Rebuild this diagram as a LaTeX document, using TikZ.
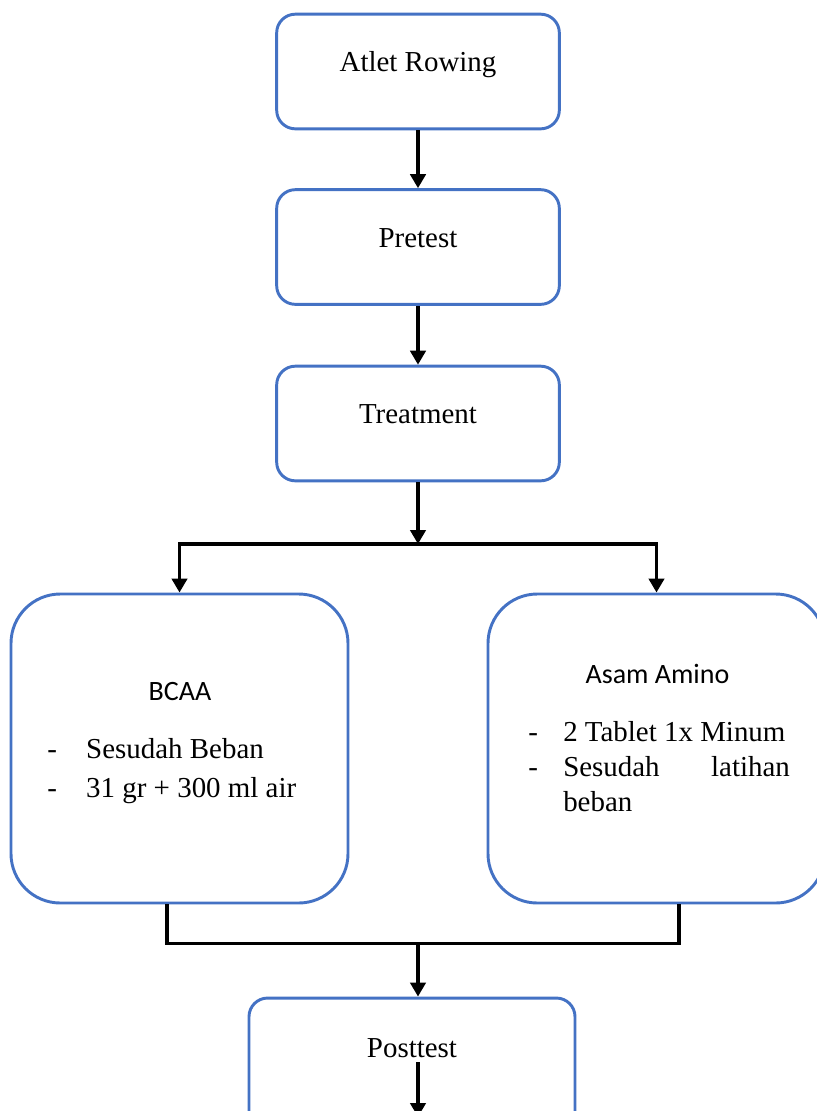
\documentclass[tikz,border=0pt]{standalone}
\usepackage{fontspec}
\setmainfont{Liberation Serif}
\newfontfamily\calibri{Carlito}
\usetikzlibrary{arrows.meta,positioning}
\definecolor{boxblue}{RGB}{68,114,196}

\tikzset{
    stepbox/.style={draw=boxblue, line width=2.2pt, rounded corners=14pt,
        minimum width=212pt, minimum height=86pt, inner sep=0pt},
    bigbox/.style={draw=boxblue, line width=2.2pt, rounded corners=37pt,
        minimum width=252.75pt, minimum height=231.75pt, inner sep=0pt},
    flow/.style={line width=2.5pt, -{Triangle[width=11.5pt,length=10.5pt]}},
    link/.style={line width=2.5pt},
    lbl/.style={font=\fontsize{21.7}{26}\selectfont, anchor=base, inner sep=0pt},
    head/.style={font=\calibri\fontsize{21}{25}\selectfont, anchor=base, inner sep=0pt}
}

\begin{document}
\begin{tikzpicture}[x=0.75pt, y=-0.75pt]
        \useasboundingbox (0,0) rectangle (817,1111);

        \node[stepbox] (atlet) at (418,71.5) {};
        \node[lbl] (atlettxt) at (atlet.center) {Atlet Rowing};

        \node[stepbox] (pre) at (418,247) {};
        \node[lbl] (pretxt) at (pre.center) {Pretest};

        \node[stepbox] (treat) at (418,423.5) {};
        \node[lbl] (treattxt) at (treat.center) {Treatment};

        \node[bigbox] (bcaa) at (179.5,748.5) {};
        \node[head] (bcaatxt) at (180,700.7) {BCAA};
        \node[anchor=base west, inner sep=0pt, font=\fontsize{21.7}{29.25}\selectfont] (bcaaitems) at (47,758)
            {\begin{tabular}[t]{@{}p{29.25pt}@{}l@{}}
                - & Sesudah Beban\\
                - & 31 gr + 300 ml air
            \end{tabular}};

        \node[bigbox] (amino) at (656.5,748.5) {};
        \node[head] (aminotxt) at (657.5,683) {Asam Amino};
        \node[anchor=base west, inner sep=0pt, font=\fontsize{21.7}{26.6}\selectfont] (aminoitems) at (528,741)
            {\begin{tabular}[t]{@{}p{26.25pt}@{}p{170pt}@{}}
                - & 2 Tablet 1x Minum\\
                - & Sesudah\hfill latihan\newline beban
            \end{tabular}};

        \node[stepbox, minimum width=244.5pt, minimum height=100pt] (post) at (412,1064.7) {};
        \node[lbl] (posttxt) at (412,1057) {Posttest};

        \coordinate (split) at (418,544);
        \coordinate (merge) at (418,942);
        \coordinate (postin) at (418,1062);
        \coordinate (postout) at (418,1117);

        \draw[flow] (atlet) -- (pre);
        \draw[flow] (pre) -- (treat);
        \draw[flow] (treat.south) -- (split);
        \draw[flow] (split) -| (bcaa.north);
        \draw[flow] (split) -| (amino.north);

        \draw[link] ([xshift=-9.4pt]bcaa.south) -- ++(0,39) -| ([xshift=16.9pt]amino.south);
        \draw[flow] (merge) -- (merge |- post.north);
        \draw[flow] (postin) -- (postout);
    \end{tikzpicture}
\end{document}
